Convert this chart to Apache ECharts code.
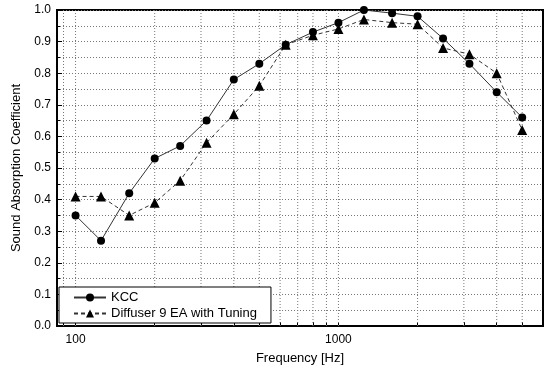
<!DOCTYPE html>
<html>
<head>
<meta charset="utf-8">
<script src="https://cdn.jsdelivr.net/npm/echarts@6/dist/echarts.min.js"></script>
<style>
  html, body { margin: 0; padding: 0; background: #fff; }
  #chart { width: 551px; height: 370px; }
</style>
</head>
<body>
<div id="chart"></div>
<script>
const frequencies = [100, 125, 160, 200, 250, 315, 400, 500, 630, 800, 1000, 1250, 1600, 2000, 2500, 3150, 4000, 5000];
const kcc = [0.35, 0.27, 0.42, 0.53, 0.57, 0.65, 0.78, 0.83, 0.89, 0.93, 0.96, 1.0, 0.99, 0.98, 0.91, 0.83, 0.74, 0.66];
const diffuser = [0.41, 0.41, 0.35, 0.39, 0.46, 0.58, 0.67, 0.76, 0.89, 0.92, 0.94, 0.97, 0.96, 0.955, 0.88, 0.86, 0.80, 0.62];
const xTicks = [90, 100, 200, 300, 400, 500, 600, 700, 800, 900, 1000, 2000, 3000, 4000, 5000];
const xLabels = [100, 1000];

const chart = echarts.init(document.getElementById('chart'), null, { renderer: 'canvas' });

const font = 'Liberation Sans, Arial, sans-serif';
const gridLine = { color: '#777', type: [1, 2], width: 1 };

// dotted vertical grid lines at every tick, drawn as plain line series
const gridSeries = xTicks.map((v) => ({
  type: 'line',
  silent: true,
  symbol: 'none',
  z: 1,
  lineStyle: gridLine,
  emphasis: { disabled: true },
  tooltip: { show: false },
  data: [[v, 0], [v, 1]],
}));

chart.setOption({
  animation: false,
  backgroundColor: '#fff',
  grid: {
    left: 57,
    right: 8,
    top: 10,
    bottom: 42,
    show: true,
    borderColor: '#000',
    borderWidth: 2,
  },
  legend: {
    orient: 'vertical',
    left: 59,
    top: 287,
    padding: [4, 14, 3, 14],
    itemGap: 3,
    itemWidth: 32,
    itemHeight: 10,
    backgroundColor: '#fff',
    borderColor: '#000',
    borderWidth: 1,
    textStyle: { color: '#000', fontSize: 13, fontFamily: font },
    data: ['KCC', 'Diffuser 9 EA with Tuning'],
  },
  xAxis: {
    type: 'log',
    logBase: 10,
    min: 85,
    max: 6000,
    name: 'Frequency [Hz]',
    nameLocation: 'middle',
    nameGap: 26,
    nameTextStyle: { color: '#000', fontSize: 13, fontFamily: font },
    axisLine: { show: true, onZero: false, lineStyle: { color: '#000', width: 2 } },
    axisTick: {
      show: true,
      inside: true,
      length: 4,
      customValues: xTicks,
      lineStyle: { color: '#000', width: 1 },
    },
    axisLabel: {
      customValues: xLabels,
      color: '#000',
      fontSize: 12,
      fontFamily: font,
      margin: 8,
      formatter: (v) => String(Math.round(v)),
    },
    splitLine: { show: false },
  },
  yAxis: {
    type: 'value',
    min: 0,
    max: 1,
    interval: 0.1,
    name: 'Sound Absorption Coefficient',
    nameLocation: 'middle',
    nameGap: 33,
    nameTextStyle: { color: '#000', fontSize: 13, fontFamily: font },
    axisLine: { show: true, lineStyle: { color: '#000', width: 2 } },
    axisTick: { show: true, inside: true, length: 5, lineStyle: { color: '#000' } },
    minorTick: { show: true, splitNumber: 2, length: 3, lineStyle: { color: '#000' } },
    axisLabel: {
      color: '#000',
      fontSize: 12,
      fontFamily: font,
      margin: 6,
      formatter: (v) => v.toFixed(1),
    },
    splitLine: { show: true, lineStyle: gridLine },
    minorSplitLine: { show: true, lineStyle: gridLine },
  },
  series: [
    ...gridSeries,
    {
      name: 'KCC',
      type: 'line',
      symbol: 'circle',
      symbolSize: 8,
      z: 3,
      itemStyle: { color: '#000' },
      lineStyle: { color: '#333', width: 1, type: 'solid' },
      data: frequencies.map((f, i) => [f, kcc[i]]),
    },
    {
      name: 'Diffuser 9 EA with Tuning',
      type: 'line',
      symbol: 'triangle',
      symbolSize: 10,
      z: 3,
      itemStyle: { color: '#000' },
      lineStyle: { color: '#333', width: 1, type: [4, 3] },
      data: frequencies.map((f, i) => [f, diffuser[i]]),
    },
  ],
});
</script>
</body>
</html>
